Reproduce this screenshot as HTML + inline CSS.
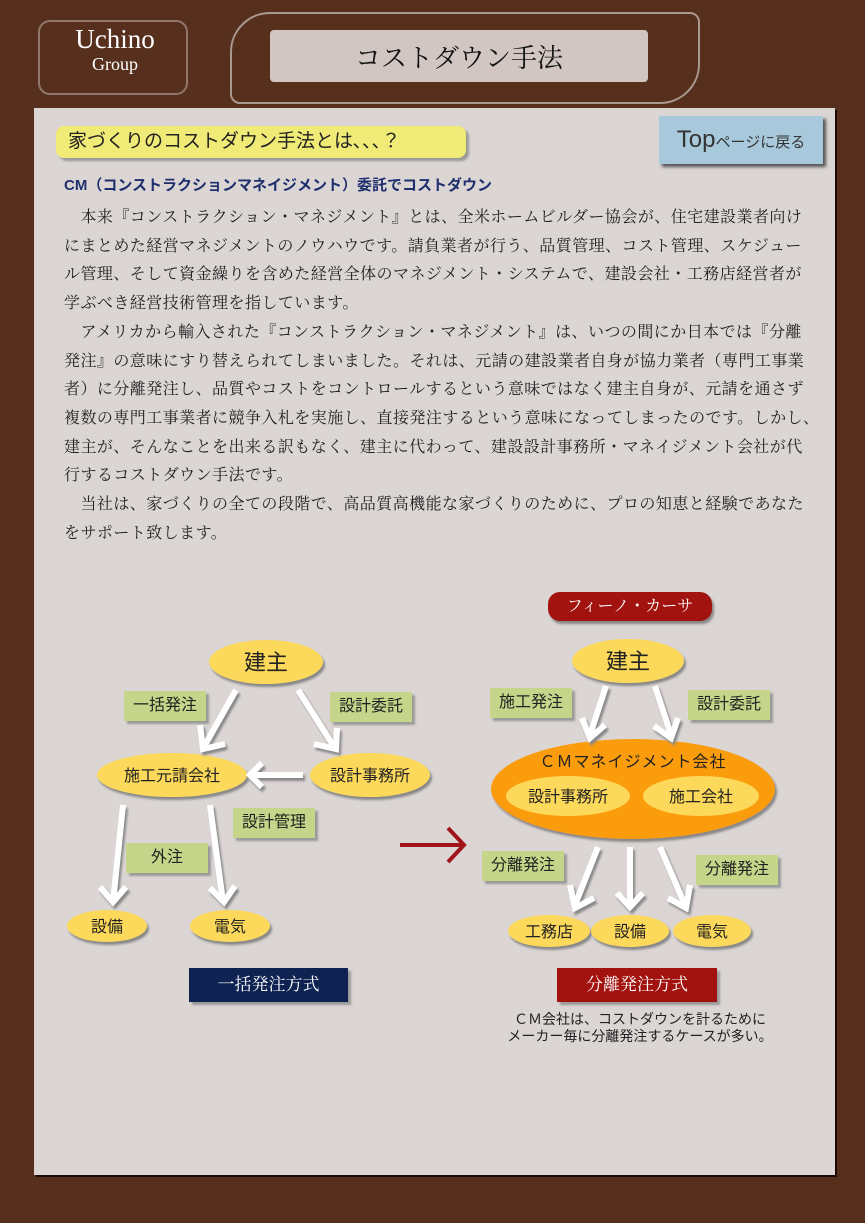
<!DOCTYPE html>
<html><head><meta charset="utf-8"><style>
*{margin:0;padding:0;box-sizing:border-box}
body{width:865px;height:1223px;background:#56301d;position:relative;overflow:hidden;font-family:"Liberation Sans","Noto Sans CJK JP",sans-serif}
.abs{position:absolute}
.panel{left:34px;top:108px;width:801px;height:1067px;background:#dbd5d4;box-shadow:2px 2px 0 #1a0a04}
.line{position:absolute;left:64px;font-size:16px;letter-spacing:0.45px;color:#222;white-space:nowrap;font-family:"Liberation Serif","Noto Serif CJK SC",serif;line-height:24px}
.lbl{position:absolute;background:#c5d68a;box-shadow:3px 3px 2px #999;font-size:16px;color:#222;text-align:center;height:30px;line-height:30px}
</style></head><body>
<div class="abs" style="left:38px;top:20px;width:150px;height:75px;border:2px solid rgba(255,255,255,0.35);border-radius:12px"></div>
<div class="abs" style="left:40px;top:24px;width:150px;text-align:center;color:#fff;font-family:'Liberation Serif',serif;font-size:27px">Uchino</div>
<div class="abs" style="left:40px;top:54px;width:150px;text-align:center;color:#fff;font-family:'Liberation Serif',serif;font-size:18px">Group</div>
<div class="abs" style="left:270px;top:30px;width:378px;height:52px;background:#d9cfcc;border-radius:4px;opacity:0.95"></div>
<div class="abs" style="left:270px;top:38px;width:378px;text-align:center;font-family:'Liberation Serif','Noto Serif CJK SC',serif;font-size:26px;color:#111">コストダウン手法</div>
<div class="abs" style="left:230px;top:12px;width:470px;height:92px;border:2px solid rgba(255,255,255,0.5);border-radius:40px 10px 40px 10px"></div>
<div class="abs panel"></div>
<div class="abs" style="left:56px;top:126px;width:410px;height:32px;background:#f0ea77;border-radius:8px;box-shadow:3px 3px 2px #999;font-size:19px;line-height:32px;padding-left:12px;color:#222">家づくりのコストダウン手法とは､､､？</div>
<div class="abs" style="left:659px;top:116px;width:164px;height:48px;background:#a7c9db;box-shadow:3px 3px 3px #555;font-size:15px;line-height:48px;text-align:center;color:#333"><span style="font-size:24px">Top</span>ページに戻る</div>
<div class="abs" style="left:64px;top:174px;font-size:15px;font-weight:bold;color:#1f2f6e">CM（コンストラクションマネイジメント）委託でコストダウン</div>
<div class="line" style="top:206px">　本来『コンストラクション・マネジメント』とは、全米ホームビルダー協会が、住宅建設業者向け</div>
<div class="line" style="top:234.7px">にまとめた経営マネジメントのノウハウです。請負業者が行う、品質管理、コスト管理、スケジュー</div>
<div class="line" style="top:263.4px">ル管理、そして資金繰りを含めた経営全体のマネジメント・システムで、建設会社・工務店経営者が</div>
<div class="line" style="top:292.1px">学ぶべき経営技術管理を指しています。</div>
<div class="line" style="top:320.8px">　アメリカから輸入された『コンストラクション・マネジメント』は、いつの間にか日本では『分離</div>
<div class="line" style="top:349.5px">発注』の意味にすり替えられてしまいました。それは、元請の建設業者自身が協力業者（専門工事業</div>
<div class="line" style="top:378.2px">者）に分離発注し、品質やコストをコントロールするという意味ではなく建主自身が、元請を通さず</div>
<div class="line" style="top:406.9px">複数の専門工事業者に競争入札を実施し、直接発注するという意味になってしまったのです。しかし、</div>
<div class="line" style="top:435.6px">建主が、そんなことを出来る訳もなく、建主に代わって、建設設計事務所・マネイジメント会社が代</div>
<div class="line" style="top:464.3px">行するコストダウン手法です。</div>
<div class="line" style="top:493px">　当社は、家づくりの全ての段階で、高品質高機能な家づくりのために、プロの知恵と経験であなた</div>
<div class="line" style="top:521.7px">をサポート致します。</div>

<svg class="abs" style="left:0;top:0" width="865" height="1223">
<defs><filter id="s"><feDropShadow dx="2" dy="3" stdDeviation="1" flood-color="#888"/></filter></defs>
<g fill="#fcd95a" filter="url(#s)">
<ellipse cx="266" cy="662" rx="57" ry="22"/>
<ellipse cx="172" cy="775" rx="75" ry="22"/>
<ellipse cx="370" cy="775" rx="60" ry="22"/>
<ellipse cx="107" cy="926" rx="40" ry="16"/>
<ellipse cx="230" cy="926" rx="40" ry="16"/>
<ellipse cx="628" cy="661" rx="56" ry="22"/>
<ellipse cx="633" cy="789" rx="142" ry="50" fill="#fb9c0d"/>
<ellipse cx="568" cy="796" rx="62" ry="20"/>
<ellipse cx="701" cy="796" rx="58" ry="20"/>
<ellipse cx="549" cy="931" rx="41" ry="16"/>
<ellipse cx="630" cy="931" rx="39" ry="16"/>
<ellipse cx="712" cy="931" rx="39" ry="16"/>
</g>
<g stroke="#fff" fill="none" stroke-width="6" filter="url(#s)" stroke-linejoin="miter">
<line x1="236" y1="690" x2="205" y2="745"/><polyline points="200,725 203,749 225,744"/>
<line x1="298" y1="690" x2="333" y2="745"/><polyline points="314,744 336,749 337,728"/>
<line x1="303" y1="775" x2="250" y2="775"/><polyline points="262,763 250,775 262,787"/>
<line x1="123" y1="805" x2="113" y2="902"/><polyline points="100,887 113,902 126,887"/>
<line x1="210" y1="805" x2="223" y2="902"/><polyline points="210,888 224,902 235,886"/>
<line x1="606" y1="686" x2="590" y2="735"/><polyline points="582,718 590,738 605,725"/>
<line x1="655" y1="686" x2="671" y2="735"/><polyline points="654,726 671,738 678,718"/>
<line x1="598" y1="847" x2="575" y2="905"/><polyline points="570,885 575,908 594,898"/>
<line x1="630" y1="847" x2="630" y2="905"/><polyline points="617,893 630,907 643,893"/>
<line x1="660" y1="847" x2="685" y2="905"/><polyline points="668,898 686,908 690,885"/>
</g>
<g stroke="#a0141a" stroke-width="4" fill="none"><line x1="400" y1="845" x2="463" y2="845"/><polyline points="448,828 464,845 448,862"/></g>
<g font-size="16" fill="#222" text-anchor="middle" font-family="Liberation Sans,Noto Sans CJK JP,sans-serif">
<text x="266" y="670" font-size="22">建主</text>
<text x="172" y="781">施工元請会社</text>
<text x="370" y="781">設計事務所</text>
<text x="107" y="932">設備</text>
<text x="230" y="932">電気</text>
<text x="628" y="669" font-size="22">建主</text>
<text x="633" y="767" letter-spacing="1">ＣＭマネイジメント会社</text>
<text x="568" y="802">設計事務所</text>
<text x="701" y="802">施工会社</text>
<text x="549" y="937">工務店</text>
<text x="630" y="937">設備</text>
<text x="712" y="937">電気</text>
</g>
</svg>
<div class="lbl" style="left:124px;top:691px;width:82px">一括発注</div>
<div class="lbl" style="left:330px;top:692px;width:82px">設計委託</div>
<div class="lbl" style="left:233px;top:808px;width:82px">設計管理</div>
<div class="lbl" style="left:126px;top:843px;width:82px">外注</div>
<div class="lbl" style="left:490px;top:688px;width:82px">施工発注</div>
<div class="lbl" style="left:688px;top:690px;width:82px">設計委託</div>
<div class="lbl" style="left:482px;top:851px;width:82px">分離発注</div>
<div class="lbl" style="left:696px;top:855px;width:82px">分離発注</div>
<div class="abs" style="left:189px;top:968px;width:159px;height:34px;background:#0f2352;color:#fff;font-size:17px;line-height:34px;text-align:center;box-shadow:3px 3px 2px #999;font-family:'Liberation Serif','Noto Serif CJK SC',serif">一括発注方式</div>
<div class="abs" style="left:548px;top:592px;width:164px;height:29px;background:#a2120e;border-radius:12px;color:#fff;font-size:16px;line-height:29px;text-align:center;box-shadow:2px 3px 2px #888;font-family:'Liberation Serif','Noto Serif CJK SC',serif">フィーノ・カーサ</div>
<div class="abs" style="left:557px;top:968px;width:160px;height:34px;background:#a2120e;color:#fff;font-size:17px;line-height:34px;text-align:center;box-shadow:3px 3px 2px #999;font-family:'Liberation Serif','Noto Serif CJK SC',serif">分離発注方式</div>
<div class="abs" style="left:490px;top:1011px;width:300px;text-align:center;font-size:14px;line-height:17px;color:#222">ＣＭ会社は、コストダウンを計るために<br>メーカー毎に分離発注するケースが多い。</div>
</body></html>
